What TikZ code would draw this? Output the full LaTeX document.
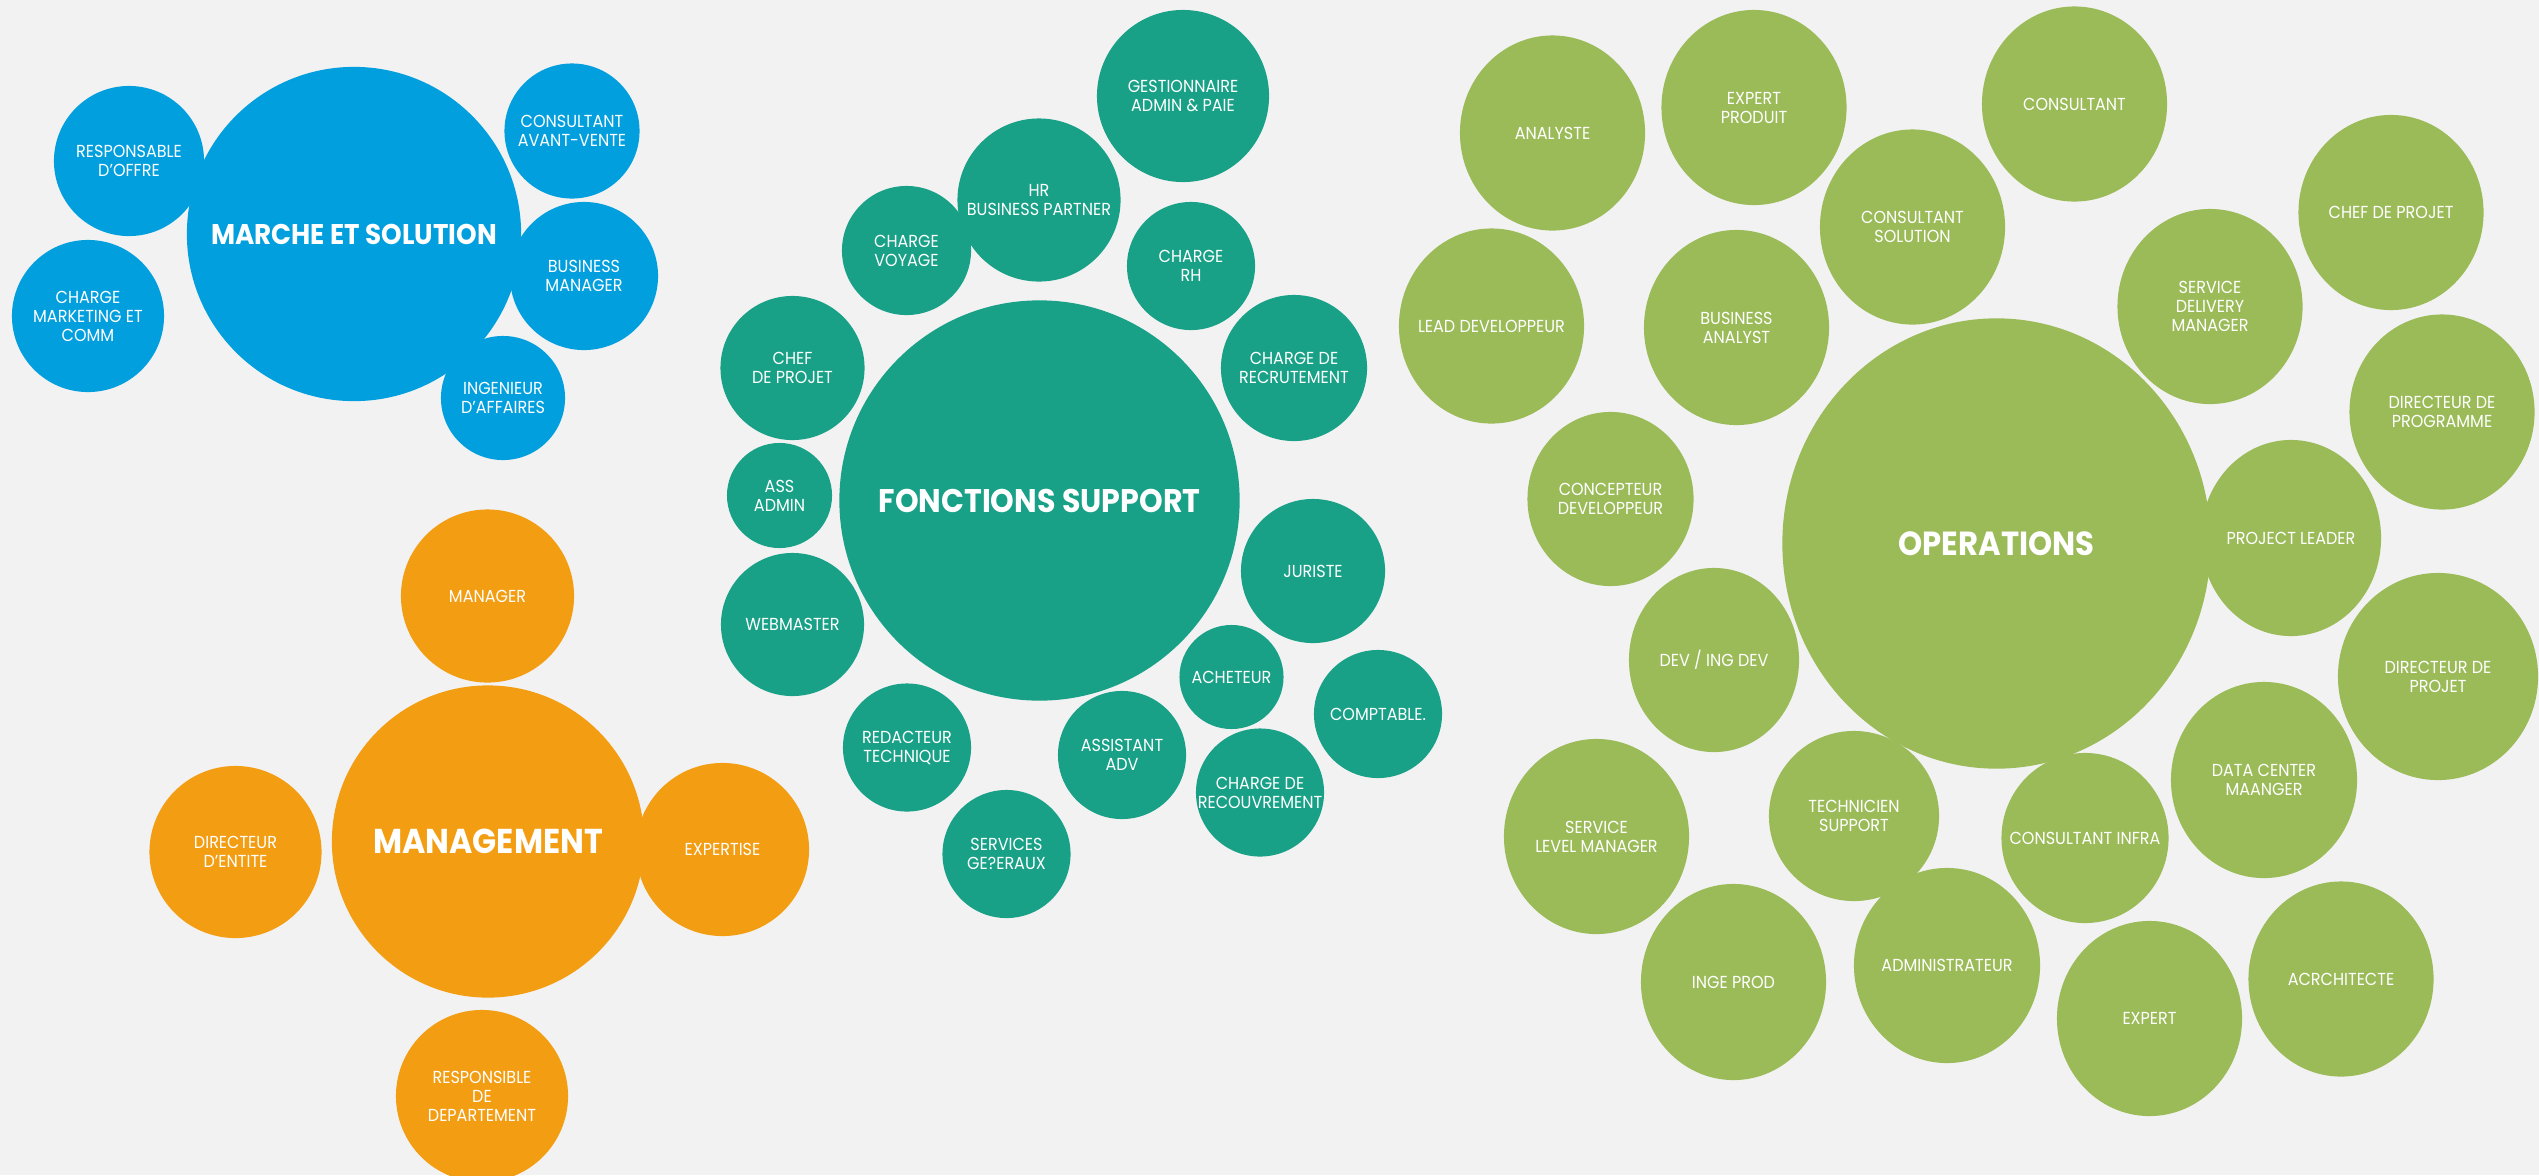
\documentclass[tikz,border=0pt]{standalone}
\usepackage{fontspec}
\setmainfont[FakeStretch=0.92]{Poppins}
\usetikzlibrary{shapes.geometric}
\definecolor{bg}{HTML}{F2F2F2}
\definecolor{cblue}{HTML}{029FDF}
\definecolor{cteal}{HTML}{18A187}
\definecolor{cgreen}{HTML}{9BBB59}
\definecolor{corange}{HTML}{F39D13}
\pgfdeclarelayer{fg}
\pgfsetlayers{main,fg}
\tikzset{
  bubble/.style={ellipse, inner sep=0pt, outer sep=0pt, draw=none},
  lbl/.style={text=white, align=center, inner sep=0pt, font=\fontsize{4.95}{5.4}\selectfont},
  ttl/.style={text=white, align=center, inner sep=0pt, font=\fontsize{#1}{#1}\selectfont\bfseries},
}
\newcommand{\bub}[8]{%
  \node[bubble, fill=#6, minimum width=#4*0.02cm, minimum height=#5*0.02cm] (#1) at (#2,#3) {};
  \begin{pgfonlayer}{fg}\node[#7] (#1-t) at (#1.center) {#8};\end{pgfonlayer}}
\begin{document}
\begin{tikzpicture}[x=0.01cm,y=-0.01cm]
\fill[bg] (0,0) rectangle (2539,1175);
\useasboundingbox (0,0) rectangle (2539,1175);
\clip (0,0) rectangle (2539,1175);
% ---------- MARCHE ET SOLUTION (blue)
\bub{ms}{354}{234}{167}{167}{cblue}{ttl=8.1}{MARCHE ET SOLUTION}
\bub{ro}{129}{161}{75}{75}{cblue}{lbl}{RESPONSABLE\\D'OFFRE}
\bub{cav}{572}{131}{67.5}{67.5}{cblue}{lbl}{CONSULTANT\\AVANT-VENTE}
\bub{bm}{584}{276}{74}{74}{cblue}{lbl}{BUSINESS\\MANAGER}
\bub{ia}{503}{398}{62}{62}{cblue}{lbl}{INGENIEUR\\D'AFFAIRES}
\bub{cmc}{88}{316}{76}{76}{cblue}{lbl}{CHARGE\\MARKETING ET\\COMM}
% ---------- FONCTIONS SUPPORT (teal)
\bub{fs}{1039.5}{500.5}{200}{200}{cteal}{ttl=9.3}{FONCTIONS SUPPORT}
\bub{gap}{1183}{96}{86}{86}{cteal}{lbl}{GESTIONNAIRE\\ADMIN \& PAIE}
\bub{hr}{1039}{200}{81.5}{81.5}{cteal}{lbl}{HR\\BUSINESS PARTNER}
\bub{cv}{906.5}{250.5}{64.5}{64.5}{cteal}{lbl}{CHARGE\\VOYAGE}
\bub{crh}{1191}{266}{64}{64}{cteal}{lbl}{CHARGE\\RH}
\bub{crec}{1294}{368}{73}{73}{cteal}{lbl}{CHARGE DE\\RECRUTEMENT}
\bub{cdp}{792.5}{368}{72}{72}{cteal}{lbl}{CHEF\\DE PROJET}
\bub{aa}{779.5}{495.5}{52.5}{52.5}{cteal}{lbl}{ASS\\ADMIN}
\bub{wm}{792.5}{624.5}{71.5}{71.5}{cteal}{lbl}{WEBMASTER}
\bub{jur}{1313}{571}{72}{72}{cteal}{lbl}{JURISTE}
\bub{ach}{1231.5}{677}{52}{52}{cteal}{lbl}{ACHETEUR}
\bub{comp}{1378}{714}{64}{64}{cteal}{lbl}{COMPTABLE.}
\bub{rt}{907}{747.5}{64}{64}{cteal}{lbl}{REDACTEUR\\TECHNIQUE}
\bub{adv}{1122}{755}{64}{64}{cteal}{lbl}{ASSISTANT\\ADV}
\bub{crv}{1260}{792.5}{64}{64}{cteal}{lbl}{CHARGE DE\\RECOUVREMENT}
\bub{sg}{1006.5}{854}{64}{64}{cteal}{lbl}{SERVICES\\GE?ERAUX}
% ---------- MANAGEMENT (orange)
\bub{mg}{488}{841.5}{156}{156}{corange}{ttl=9.8}{MANAGEMENT}
\bub{man}{487.5}{596}{86.5}{86.5}{corange}{lbl}{MANAGER}
\bub{de}{235.5}{852}{86}{86}{corange}{lbl}{DIRECTEUR\\D'ENTITE}
\bub{exp}{722.5}{849.5}{86.5}{86.5}{corange}{lbl}{EXPERTISE}
\bub{rdd}{482}{1096}{86}{86}{corange}{lbl}{RESPONSIBLE\\DE\\DEPARTEMENT}
% ---------- OPERATIONS (green)
\bub{op}{1996.5}{543.5}{214}{225}{cgreen}{ttl=9.5}{OPERATIONS}
\bub{an}{1552.5}{133}{92.5}{97.5}{cgreen}{lbl}{ANALYSTE}
\bub{ep}{1754}{107.5}{92.5}{97.5}{cgreen}{lbl}{EXPERT\\PRODUIT}
\bub{con}{2074.5}{104}{92.5}{97.5}{cgreen}{lbl}{CONSULTANT}
\bub{cs}{1912.5}{227}{92.5}{97.5}{cgreen}{lbl}{CONSULTANT\\SOLUTION}
\bub{cp}{2391}{212.5}{92.5}{97.5}{cgreen}{lbl}{CHEF DE PROJET}
\bub{ld}{1491.5}{326}{92.5}{97.5}{cgreen}{lbl}{LEAD DEVELOPPEUR}
\bub{ba}{1736.5}{327.5}{92.5}{97.5}{cgreen}{lbl}{BUSINESS\\ANALYST}
\bub{sdm}{2210}{306.5}{92.5}{97.5}{cgreen}{lbl}{SERVICE\\DELIVERY\\MANAGER}
\bub{dp}{2442}{412}{92.5}{97.5}{cgreen}{lbl}{DIRECTEUR DE\\PROGRAMME}
\bub{cd}{1610.5}{499}{83}{87}{cgreen}{lbl}{CONCEPTEUR\\DEVELOPPEUR}
\bub{pl}{2291}{538}{90}{98}{cgreen}{lbl}{PROJECT LEADER}
\bub{dpj}{2438}{676.5}{100}{103.5}{cgreen}{lbl}{DIRECTEUR DE\\PROJET}
\bub{dev}{1714}{660}{85}{92}{cgreen}{lbl}{DEV / ING DEV}
\bub{dcm}{2264}{780}{93}{98}{cgreen}{lbl}{DATA CENTER\\MAANGER}
\bub{slm}{1596.5}{836.5}{92.5}{97.5}{cgreen}{lbl}{SERVICE\\LEVEL MANAGER}
\bub{ts}{1854}{816}{85}{85}{cgreen}{lbl}{TECHNICIEN\\SUPPORT}
\bub{ci}{2085}{838}{83.5}{85}{cgreen}{lbl}{CONSULTANT INFRA}
\bub{adm}{1947}{965.5}{93}{97.5}{cgreen}{lbl}{ADMINISTRATEUR}
\bub{ip}{1733.5}{982}{92.5}{98}{cgreen}{lbl}{INGE PROD}
\bub{ex}{2149.5}{1018.5}{92.5}{97.5}{cgreen}{lbl}{EXPERT}
\bub{arc}{2341}{979}{92.5}{97.5}{cgreen}{lbl}{ACRCHITECTE}
\end{tikzpicture}
\end{document}
